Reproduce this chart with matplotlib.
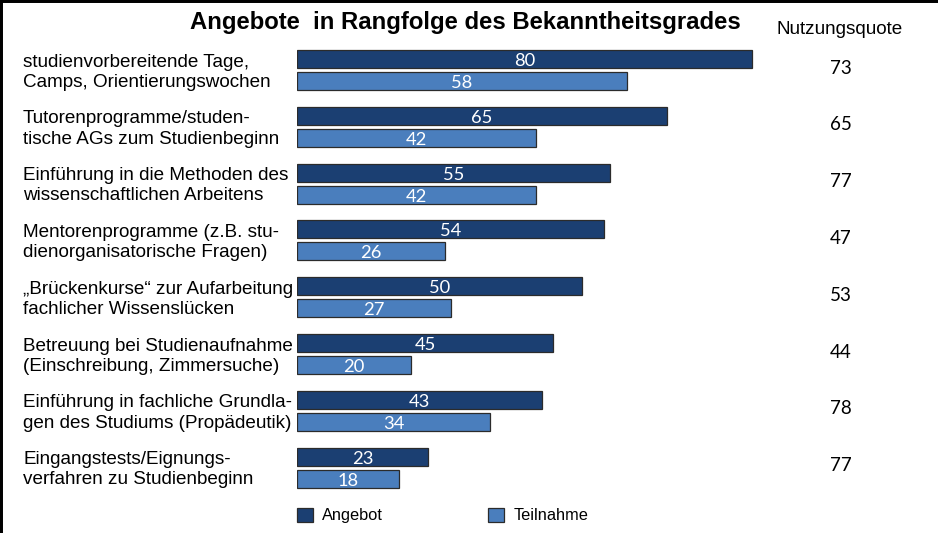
import matplotlib
matplotlib.use("Agg")
import matplotlib.pyplot as plt
from matplotlib.transforms import blended_transform_factory
from matplotlib.patches import Patch

# categories in order of awareness (top to bottom)
categories = [
    "studienvorbereitende Tage,\nCamps, Orientierungswochen",
    "Tutorenprogramme/studen-\ntische AGs zum Studienbeginn",
    "Einführung in die Methoden des\nwissenschaftlichen Arbeitens",
    "Mentorenprogramme (z.B. stu-\ndienorganisatorische Fragen)",
    "\u201eBrückenkurse\u201c zur Aufarbeitung\nfachlicher Wissenslücken",
    "Betreuung bei Studienaufnahme\n(Einschreibung, Zimmersuche)",
    "Einführung in fachliche Grundla-\ngen des Studiums (Propädeutik)",
    "Eingangstests/Eignungs-\nverfahren zu Studienbeginn",
]
angebot = [80, 65, 55, 54, 50, 45, 43, 23]
teilnahme = [58, 42, 42, 26, 27, 20, 34, 18]
nutzungsquote = [73, 65, 77, 47, 53, 44, 78, 77]

dark = "#1b3f72"
light = "#4a7ebd"
edge = "#2b2b2b"

W, H = 938, 533
fig = plt.figure(figsize=(W / 100, H / 100), dpi=100)

# axes placed in pixel terms: bars start at x=297, 5.69 px per percent
x0 = 297
ppu = 5.69
top_px, bot_px = 41.6, 496
ax = fig.add_axes([x0 / W, (H - bot_px) / H, (W - x0) / W, (bot_px - top_px) / H])
ax.set_xlim(0, (W - x0) / ppu)
ax.set_ylim(len(categories) - 0.5, -0.5)
ax.axis("off")

off = 0.194
bh = 0.317
pos = list(range(len(categories)))
ax.barh([p - off for p in pos], angebot, height=bh, color=dark, edgecolor=edge, linewidth=0.9)
ax.barh([p + off for p in pos], teilnahme, height=bh, color=light, edgecolor=edge, linewidth=0.9)

# small downward nudge so digits look centred (va=center counts the descender)
nudge = 0.035
num_font = ["Lato", "DejaVu Sans"]
for p, a, t in zip(pos, angebot, teilnahme):
    ax.text(a / 2, p - off + nudge, str(a), ha="center", va="center", color="white",
            fontsize=13.2, family=num_font)
    ax.text(t / 2, p + off + nudge, str(t), ha="center", va="center", color="white",
            fontsize=13.2, family=num_font)

lab_tr = blended_transform_factory(fig.transFigure, ax.transData)
for p, c, q in zip(pos, categories, nutzungsquote):
    ax.text(23 / W, p + 0.04, c, transform=lab_tr, ha="left", va="center",
            fontsize=13.6, family="Liberation Sans", linespacing=1.25)
    ax.text(841 / W, p - 0.07 + nudge, str(q), transform=lab_tr, ha="center", va="center",
            fontsize=13.5, family=num_font)

fig.text(465 / W, 1 - 22 / H, "Angebote  in Rangfolge des Bekanntheitsgrades",
         ha="center", va="center", fontsize=17.2, fontweight="bold", family="Liberation Sans")
fig.text(840 / W, 1 - 30 / H, "Nutzungsquote", ha="center", va="center",
         fontsize=13.6, family="Liberation Sans")

handles = [Patch(facecolor=dark, edgecolor=edge, linewidth=0.9),
           Patch(facecolor=light, edgecolor=edge, linewidth=0.9)]
fig.legend(handles, ["Angebot", "Teilnahme"], loc="center left",
           bbox_to_anchor=(282 / W, 1 - 515.5 / H), ncol=2, frameon=False,
           handlelength=1.0, handleheight=1.0, handletextpad=0.55,
           columnspacing=6.4, prop={"family": "Liberation Sans", "size": 11.8})

# black frame lines on top and left edges
fig.add_artist(plt.Line2D([0, 0], [0, 1], transform=fig.transFigure, color="black", lw=4.3))
fig.add_artist(plt.Line2D([0, 1], [1, 1], transform=fig.transFigure, color="black", lw=4.3))

fig.savefig("out.png", dpi=100)
